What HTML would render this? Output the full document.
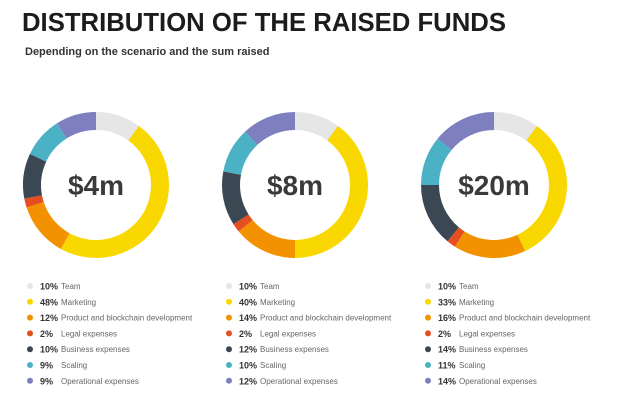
<!DOCTYPE html>
<html><head><meta charset="utf-8">
<style>
body{margin:0;background:#fff;width:631px;height:420px;overflow:hidden;font-family:"Liberation Sans",sans-serif;}
svg{display:block}
</style></head>
<body>
<svg id="c" width="631" height="420">
<text x="22" y="31" font-size="25.5" font-weight="bold" fill="#1c1c1c" textLength="484" lengthAdjust="spacingAndGlyphs">DISTRIBUTION OF THE RAISED FUNDS</text>
<text x="25" y="55" font-size="11" font-weight="bold" fill="#333">Depending on the scenario and the sum raised</text>
</svg>
<script>
const scenarios=["$4m","$8m","$20m"];
const categories=["Team","Marketing","Product and blockchain development","Legal expenses","Business expenses","Scaling","Operational expenses"];
const values4m=[10,48,12,2,10,9,9];
const values8m=[10,40,14,2,12,10,12];
const values20m=[10,33,16,2,14,11,14];
const colors=["#e6e6e6","#f8d800","#f39200","#e54e1f","#3b4853","#4bb2c5","#7d7fbf"];
const series=[values4m,values8m,values20m];
const svg=document.getElementById('c');
const NS="http://www.w3.org/2000/svg";
function mk(t,a){const e=document.createElementNS(NS,t);for(const k in a)e.setAttribute(k,a[k]);svg.appendChild(e);return e;}
function pt(cx,cy,r,f){const a=f*2*Math.PI-Math.PI/2;return [cx+r*Math.cos(a),cy+r*Math.sin(a)];}
series.forEach((vals,s)=>{
  const cx=96+s*199,cy=185,ro=73,ri=55;
  const tot=vals.reduce((a,b)=>a+b,0);
  let acc=0;
  vals.forEach((v,i)=>{
    const f0=acc/tot,f1=(acc+v)/tot;acc+=v;
    const [x0,y0]=pt(cx,cy,ro,f0),[x1,y1]=pt(cx,cy,ro,f1),[x2,y2]=pt(cx,cy,ri,f1),[x3,y3]=pt(cx,cy,ri,f0);
    const lg=(f1-f0)>0.5?1:0;
    const p=mk('path',{d:`M${x0},${y0}A${ro},${ro} 0 ${lg} 1 ${x1},${y1}L${x2},${y2}A${ri},${ri} 0 ${lg} 0 ${x3},${y3}Z`,fill:colors[i]});
    
    
    const lx=30+s*199,ly=286+i*15.8;
    const d=mk('circle',{cx:lx,cy:ly,r:3,fill:colors[i]});
    
    
    const t1=mk('text',{x:lx+10,y:ly+3.5,'font-size':9,'font-weight':'bold',fill:'#333'});
    t1.textContent=v+'%';
    
    
    const t2=mk('text',{x:lx+31,y:ly+3,'font-size':8,fill:'#666'});
    t2.textContent=categories[i];
    
    
  });
  const c=mk('text',{x:cx,y:cy+10,'font-size':28,'font-weight':'bold',fill:'#3a3a3a','text-anchor':'middle'});
  c.textContent=scenarios[s];
  
  
});
</script>
</body></html>
